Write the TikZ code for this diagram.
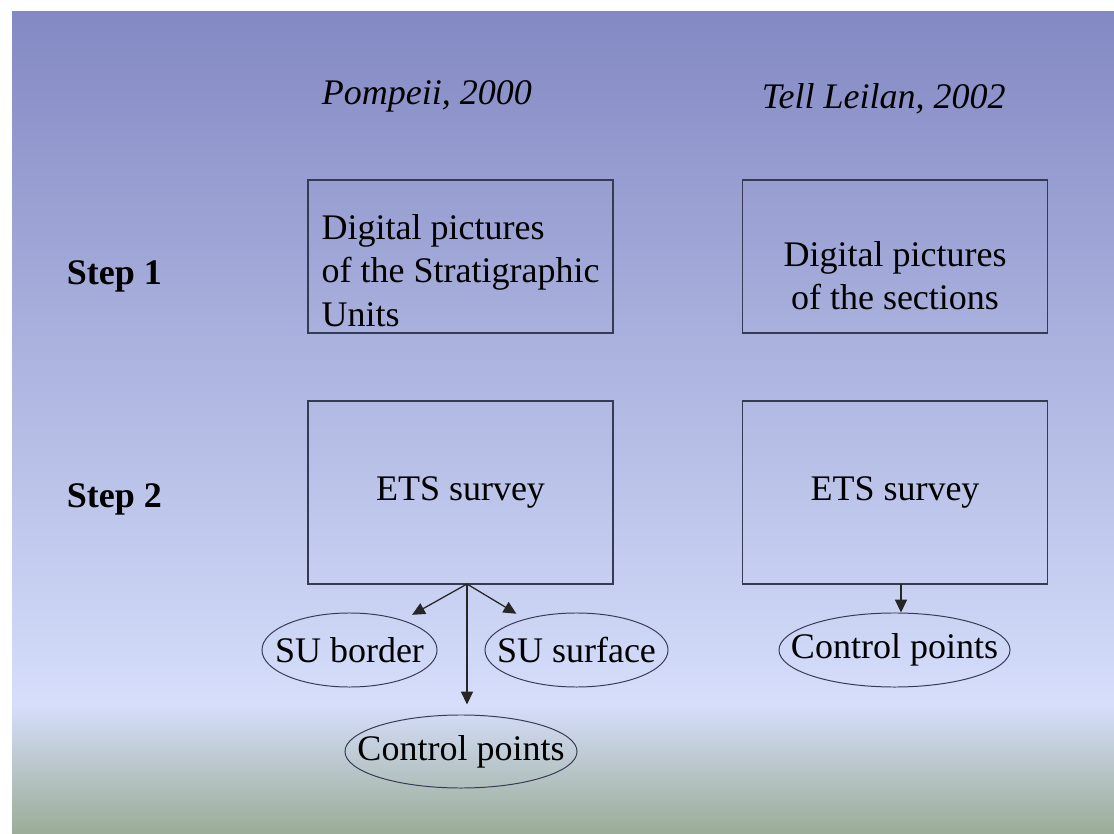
\documentclass[tikz,border=0pt]{standalone}
\usepackage{fontspec}
\setmainfont{Liberation Serif}
\usetikzlibrary{shapes.geometric,arrows.meta}

\definecolor{bgtop}{RGB}{131,137,195}
\definecolor{bglight}{RGB}{214,222,251}
\definecolor{bgground}{RGB}{155,172,151}
\definecolor{edge}{RGB}{55,58,85}

\tikzset{
  every node/.style={font=\fontsize{25.6}{31}\selectfont},
  stepbox/.style={draw=edge, line width=1.3pt, minimum width=7.625cm, inner sep=1pt},
  oval/.style={ellipse, draw=edge, line width=0.7pt, inner xsep=-1cm, inner ysep=0pt},
  arr/.style={draw=black!85, line width=0.9pt, -{Triangle[length=0.32cm,width=0.3cm]}},
  sitetitle/.style={anchor=base west, font=\fontsize{25.6}{31}\selectfont\itshape},
  steplabel/.style={anchor=base west, font=\fontsize{25.6}{31}\selectfont\bfseries},
}

\begin{document}
\begin{tikzpicture}[x=0.025cm, y=-0.025cm]

    % Slide background
    \fill[white] (0,0) rectangle (1114,834);
    \shade[top color=bgtop, bottom color=bglight] (12,12) rectangle (1114,705);
    \shade[top color=bglight, bottom color=bgground] (12,705) rectangle (1114,834);

    % Column titles
    \node[sitetitle] (pompeii) at (317,105) {Pompeii, 2000};
    \node[sitetitle] (leilan) at (757,109) {Tell Leilan, 2002};

    % Row labels
    \node[steplabel] (step1) at (62,285) {Step 1};
    \node[steplabel] (step2) at (62,507) {Step 2};

    % Step 1 boxes
    \node[stepbox, minimum height=3.825cm, align=left] (pdig) at (460.5,256.5)
        {\rule{0pt}{1.325cm}Digital pictures\\of the Stratigraphic\\Units};
    \node[stepbox, minimum height=3.825cm, align=center] (tdig) at (895,256.5)
        {\rule{0pt}{1.575cm}Digital pictures\\of the sections};

    % Step 2 boxes
    \node[stepbox, minimum height=4.575cm] (pets) at (460.5,492.5) {ETS survey};
    \node[stepbox, minimum height=4.575cm] (tets) at (895,492.5) {ETS survey};

    % Survey results
    \node[oval, minimum width=4.375cm, minimum height=1.85cm] (suborder) at (349.5,650) {SU border};
    \node[oval, minimum width=4.575cm, minimum height=1.85cm] (susurface) at (576.5,650) {SU surface};
    \node[oval, minimum width=5.8cm, minimum height=1.825cm] (pctrl) at (461,751.5) {Control points};
    \node[oval, minimum width=5.775cm, minimum height=1.85cm] (tctrl) at (894.5,650) {Control points};

    % Arrows out of the surveys
    \coordinate (pfork) at (467,584);
    \coordinate (tfork) at (901,584);
    \draw[arr, shorten >=0.27cm] (pfork) -- (suborder);
    \draw[arr, shorten >=0.25cm] (pfork) -- (susurface);
    \draw[arr, shorten >=0.25cm] (pfork) -- (pfork |- pctrl.north);
    \draw[arr] (tfork) -- (tfork |- tctrl.north);

\end{tikzpicture}
\end{document}
